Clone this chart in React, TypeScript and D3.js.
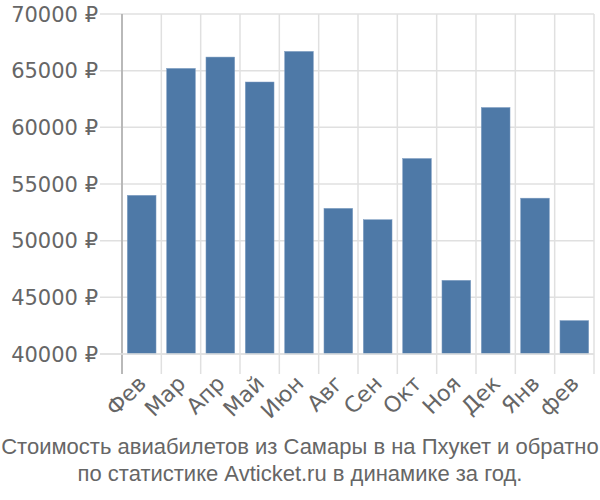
import React from "react";
import * as d3 from "d3";

const months = ["Фев", "Мар", "Апр", "Май", "Июн", "Авг", "Сен", "Окт", "Ноя", "Дек", "Янв", "фев"];
const prices = [54000, 65200, 66200, 64000, 66700, 52850, 51850, 57250, 46500, 61750, 53750, 42950];
const yTicks = [40000, 45000, 50000, 55000, 60000, 65000, 70000];
const titleLines = [
  "Стоимость авиабилетов из Самары в на Пхукет и обратно",
  "по статистике Avticket.ru в динамике за год.",
];

export default function App() {
  const W = 600, H = 500;
  const left = 122, right = 594, top = 14, bottom = 354;
  const x = d3.scaleBand<number>().domain(d3.range(months.length)).range([left, right]).paddingInner(0.27).paddingOuter(0.135);
  const xb = d3.scaleBand<number>().domain(d3.range(months.length)).range([left, right]);
  const y = d3.scaleLinear().domain([40000, 70000]).range([bottom, top]);
  const axisFont = "'DejaVu Sans', sans-serif";
  const titleFont = "'Liberation Sans', Arial, sans-serif";
  return (
    <svg width={W} height={H} style={{ position: "absolute", left: 0, top: 0 }}>
      <rect width={W} height={H} fill="#fff" />
      {yTicks.map((t) => (
        <line key={t} x1={100} x2={right} y1={y(t)} y2={y(t)} stroke="#e0e0e0" strokeWidth={1.5} />
      ))}
      {d3.range(months.length + 1).map((i) => {
        const xx = i < months.length ? xb(i)! : right;
        return <line key={i} x1={xx} x2={xx} y1={top} y2={374} stroke="#e0e0e0" strokeWidth={1.5} />;
      })}
      <line x1={left} x2={left} y1={top} y2={374} stroke="#aaaaaa" strokeWidth={1.5} />
      {prices.map((p, i) => (
        <rect key={i} x={x(i)} y={y(p)} width={x.bandwidth()} height={bottom - y(p)} fill="#4e79a7" stroke="#7f9dc1" strokeWidth={0.5} />
      ))}
      <line x1={100} x2={right} y1={bottom} y2={bottom} stroke="#e0e0e0" strokeWidth={1.5} />
      {yTicks.map((t) => (
        <text key={t} x={98} y={y(t)} dy="0.36em" textAnchor="end" fontFamily={axisFont} fontSize={21} fill="#666">
          {t} ₽
        </text>
      ))}
      {months.map((m, i) => {
        const cx = xb(i)! + xb.bandwidth() / 2 - 5;
        const cy = 374;
        return (
          <text key={i} x={cx} y={cy} textAnchor="end" dy="0.7em" transform={`rotate(-45, ${cx}, ${cy})`} fontFamily={axisFont} fontSize={22} fill="#666">
            {m}
          </text>
        );
      })}
      {titleLines.map((l, i) => (
        <text key={i} x={300} y={454 + i * 27} textAnchor="middle" fontFamily={titleFont} fontSize={22} fill="#666">
          {l}
        </text>
      ))}
    </svg>
  );
}
